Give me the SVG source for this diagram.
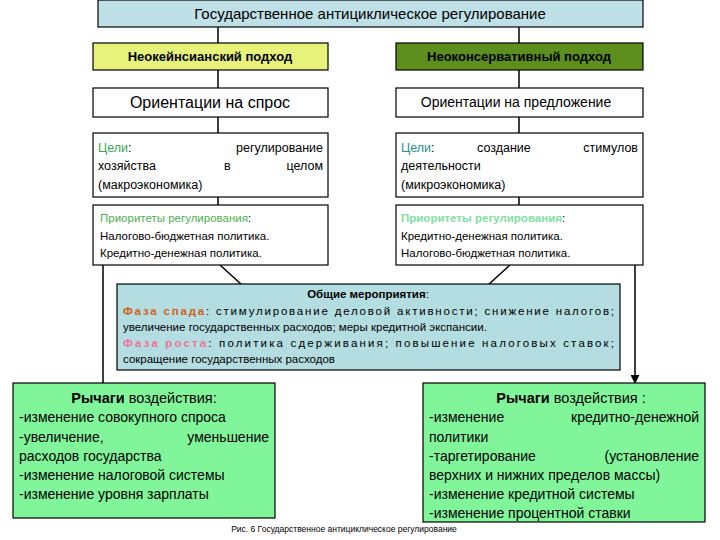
<svg xmlns="http://www.w3.org/2000/svg" width="720" height="540" viewBox="0 0 720 540">
<style>
text{font-family:"Liberation Sans",Arial,sans-serif;fill:#000}
.b{stroke:#000;stroke-width:1.2}
.c{stroke:#000;stroke-width:1.5;fill:none}
.t{font-size:12.5px}
.h{font-size:13px;font-weight:bold}
</style>
<defs><marker id="a" viewBox="0 0 10 10" refX="9" refY="5" markerWidth="6" markerHeight="6" orient="auto"><path d="M0,0L10,5L0,10z" fill="#000"/></marker></defs>
<rect width="720" height="540" fill="#fff"/>
<g id="connectors">
<path class="c" marker-end="url(#a)" d="M218,27V43M218,70V88M218,117V133M218,197V205M519,27V43M519,70V88M519,117V133M519,197V205M220,265L242,285M510,265L488,285M103,265V383M635,265V383"/>
</g>
<g id="title"><rect class="b" x="98" y="0" width="545" height="27" fill="#bfe0e6"/><text x="370" y="19" text-anchor="middle" font-size="15">Государственное антициклическое регулирование</text></g>
<g id="neok"><rect class="b" x="93" y="43" width="235" height="27" fill="#e6f27a"/><text x="210" y="61" text-anchor="middle" class="h" font-weight="normal">Неокейнсианский подход</text></g>
<g id="neocons"><rect class="b" x="396" y="43" width="247" height="27" fill="#5c8f1e"/><text x="519" y="61" text-anchor="middle" class="h" font-weight="normal">Неоконсервативный подход</text></g>
<g id="spros"><rect class="b" x="93" y="88" width="235" height="29" fill="#fff"/><text x="210" y="108" text-anchor="middle" font-size="16">Ориентации на спрос</text></g>
<g id="predl"><rect class="b" x="396" y="88" width="247" height="29" fill="#fff"/><text x="516" y="107" text-anchor="middle" font-size="14">Ориентации на предложение</text></g>
<g id="celiL"><rect class="b" x="93" y="133" width="235" height="64" fill="#fff"/>
<text class="t" x="98" y="152"><tspan fill="#3aa65a">Цели</tspan>:</text><text class="t" x="323" y="152" text-anchor="end">регулирование</text>
<text class="t" x="98" y="170">хозяйства</text><text class="t" x="224" y="170">в</text><text class="t" x="323" y="170" text-anchor="end">целом</text>
<text class="t" x="98" y="189">(макроэкономика)</text></g>
<g id="celiR"><rect class="b" x="396" y="133" width="247" height="64" fill="#fff"/>
<text class="t" x="401" y="152"><tspan fill="#1f8f8f">Цели</tspan>:</text><text class="t" x="477" y="152">создание</text><text class="t" x="638" y="152" text-anchor="end">стимулов</text>
<text class="t" x="401" y="170">деятельности</text>
<text class="t" x="401" y="189">(микроэкономика)</text></g>
<g id="priorL"><rect class="b" x="93" y="205" width="235" height="60" fill="#fff"/>
<text x="100" y="222" font-size="11.5" fill="#4caf50" style="fill:#4caf50">Приоритеты регулирования<tspan style="fill:#000">:</tspan></text>
<text x="100" y="240" font-size="11.5">Налогово-бюджетная политика.</text>
<text x="100" y="257" font-size="11.5">Кредитно-денежная политика.</text></g>
<g id="priorR"><rect class="b" x="396" y="205" width="247" height="60" fill="#fff"/>
<text x="401" y="222" font-size="11.5" font-weight="bold" style="fill:#7fe0a0">Приоритеты регулирования<tspan style="fill:#000" font-weight="normal">:</tspan></text>
<text x="401" y="240" font-size="11.5">Кредитно-денежная политика.</text>
<text x="401" y="257" font-size="11.5">Налогово-бюджетная политика.</text></g>
<g id="obshie"><rect class="b" x="117" y="284" width="503" height="86" fill="#b3dde0"/>
<text x="368" y="298" text-anchor="middle" font-size="11.5"><tspan font-weight="bold">Общие мероприятия</tspan>:</text>
<text x="123" y="315" font-size="11.5" textLength="491" lengthAdjust="spacing"><tspan font-weight="bold" style="fill:#d2601a">Фаза спада</tspan>: стимулирование деловой активности; снижение налогов;</text>
<text x="123" y="331" font-size="11.5">увеличение государственных расходов; меры кредитной экспансии.</text>
<text x="123" y="347" font-size="11.5" textLength="491" lengthAdjust="spacing"><tspan font-weight="bold" style="fill:#f070a0">Фаза роста</tspan>: политика сдерживания; повышение налоговых ставок;</text>
<text x="123" y="363" font-size="11.5">сокращение государственных расходов</text></g>
<g id="rychL"><rect class="b" x="13" y="383" width="262" height="135" fill="#80f59a"/>
<text x="144" y="403" text-anchor="middle" font-size="14.5"><tspan font-weight="bold">Рычаги</tspan> воздействия:</text>
<text x="19" y="422" font-size="14">-изменение совокупного спроса</text>
<text x="19" y="442" font-size="14">-увеличение,</text><text x="269" y="442" font-size="14" text-anchor="end">уменьшение</text>
<text x="19" y="461" font-size="14">расходов государства</text>
<text x="19" y="480" font-size="14">-изменение налоговой системы</text>
<text x="19" y="499" font-size="14">-изменение уровня зарплаты</text></g>
<g id="rychR"><rect class="b" x="423" y="383" width="282" height="139" fill="#80f59a"/>
<text x="571" y="403" text-anchor="middle" font-size="14.5"><tspan font-weight="bold">Рычаги</tspan> воздействия :</text>
<text x="429" y="422" font-size="14">-изменение</text><text x="699" y="422" font-size="14" text-anchor="end">кредитно-денежной</text>
<text x="429" y="442" font-size="14">политики</text>
<text x="429" y="461" font-size="14">-таргетирование</text><text x="699" y="461" font-size="14" text-anchor="end">(установление</text>
<text x="429" y="480" font-size="14">верхних и нижних пределов массы)</text>
<text x="429" y="499" font-size="14">-изменение кредитной системы</text>
<text x="429" y="518" font-size="14">-изменение процентной ставки</text></g>
<text x="344" y="532" text-anchor="middle" font-size="8.5">Рис. 6 Государственное антициклическое регулирование</text>
</svg>
